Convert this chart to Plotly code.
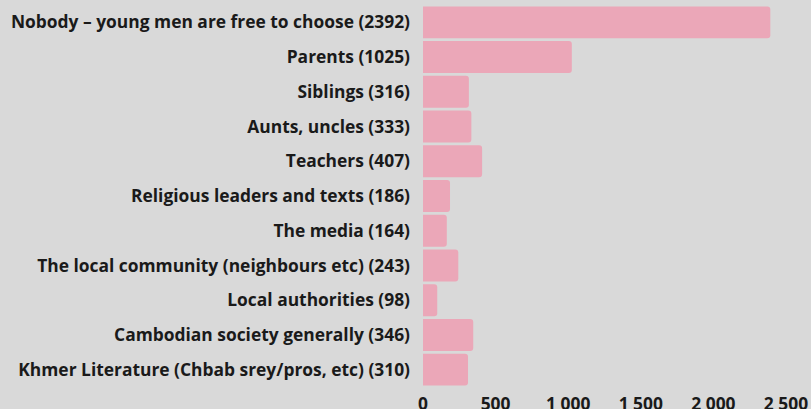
import plotly.graph_objects as go

names = [
    "Nobody – young men are free to choose",
    "Parents",
    "Siblings",
    "Aunts, uncles",
    "Teachers",
    "Religious leaders and texts",
    "The media",
    "The local community (neighbours etc)",
    "Local authorities",
    "Cambodian society generally",
    "Khmer Literature (Chbab srey/pros, etc)",
]
values = [2392, 1025, 316, 333, 407, 186, 164, 243, 98, 346, 310]
tick_values = [0, 500, 1000, 1500, 2000, 2500]

labels = [f"{n} ({v})" for n, v in zip(names, values)]

fs = 17.4
fig = go.Figure(go.Bar(
    x=values, y=labels, orientation="h",
    marker=dict(color="#eba7b8", cornerradius=3, line=dict(width=0)),
    hoverinfo="x+y",
))
fig.update_layout(
    width=811, height=409,
    margin=dict(l=423, r=25, t=5, b=22),
    paper_bgcolor="#d9d9d9", plot_bgcolor="#d9d9d9",
    bargap=0.08,
    separators=". ",
    showlegend=False,
    font=dict(family="Open Sans", size=fs, color="#1a1a1a"),
)
fig.update_yaxes(autorange="reversed", showgrid=False, ticks="", ticklabelstandoff=12,
                 automargin=False,
                 tickfont=dict(family="Open Sans", size=fs, weight="bold", color="#1a1a1a"))
fig.update_xaxes(range=[0, 2500], tickvals=tick_values, separatethousands=True,
                 showgrid=False, zeroline=False, ticks="", ticklabelstandoff=5,
                 automargin=False,
                 tickfont=dict(family="Open Sans", size=fs, weight="bold", color="#1a1a1a"))
fig.write_html("out.html", config={"displayModeBar": False},
               post_script="document.body.style.margin='0';document.body.style.overflow='hidden';")
